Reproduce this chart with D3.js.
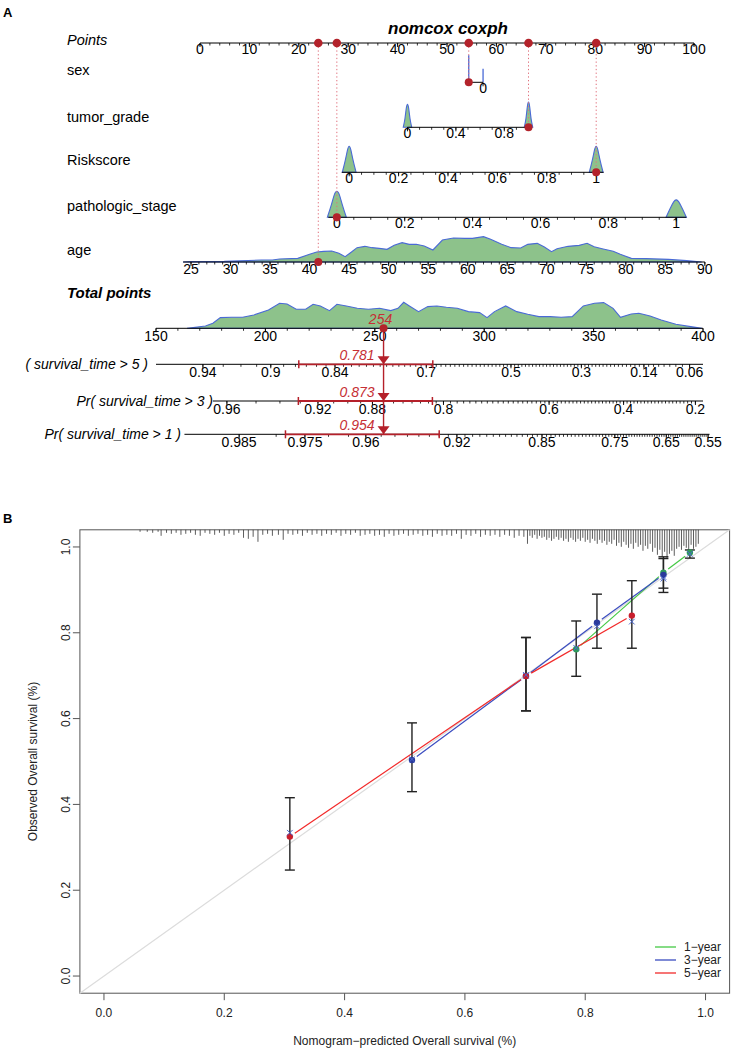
<!DOCTYPE html>
<html><head><meta charset="utf-8">
<script src="https://cdn.jsdelivr.net/npm/d3@7/dist/d3.min.js"></script>
<style>body{margin:0;background:#fff}svg{display:block}text{font-family:"Liberation Sans",Arial,sans-serif}</style>
</head><body><svg id="c" width="731" height="1050"></svg>
<script>
// ---------------- DATA (panel A: nomogram) ----------------
const pointsTicks = [0,10,20,30,40,50,60,70,80,90,100];
const varLabels = ["sex","tumor_grade","Riskscore","pathologic_stage","age"];
const sexDomain = [0,1], sexPoints = [57.3,54.4], sexTicks = [0];
const sexSpikeVals = [1,0], sexSpikeDens = [1.0,0.5];
const gradeDomain = [0,1], gradePoints = [42.0,66.5], gradeTicks = [0,0.4,0.8];
const gradeDensVals = [[-0.035,-0.02,-0.01,0,0.01,0.02,0.035],[0.965,0.98,0.99,1,1.01,1.02,1.035]];
const gradeDens = [[0,0.3,0.75,0.9,0.75,0.3,0],[0,0.3,0.8,1.0,0.8,0.3,0]];
const riskDomain = [0,1], riskPoints = [30.2,80.2], riskTicks = [0,0.2,0.4,0.6,0.8,1];
const riskDensVals = [[-0.028,-0.015,-0.006,0,0.006,0.015,0.028],[0.972,0.985,0.994,1,1.006,1.015,1.028]];
const riskDens = [[0,0.45,0.9,1.0,0.9,0.45,0],[0,0.45,0.9,1.0,0.9,0.45,0]];
const stageDomain = [0,1], stagePoints = [27.7,96.4], stageTicks = [0,0.2,0.4,0.6,0.8,1];
const stageDensVals = [[-0.028,-0.016,-0.007,0,0.007,0.016,0.028],[0.97,0.983,0.993,1,1.007,1.017,1.03]];
const stageDens = [[0,0.45,0.9,1.0,0.9,0.45,0],[0,0.35,0.6,0.67,0.6,0.35,0]];
const ageDomain = [25,90], agePoints = [-1.82,102.2];
const ageTicks = [25,30,35,40,45,50,55,60,65,70,75,80,85,90];
const ageDensX = [24.0,25.0,29.2,33.9,35.3,36.2,38.5,40.0,40.9,41.8,42.8,43.7,44.5,45.3,46.0,47.0,47.9,48.8,49.8,50.7,51.7,52.6,53.5,54.5,55.6,56.8,58.2,59.6,60.6,62.0,62.9,64.3,65.5,66.7,67.6,68.8,69.7,70.6,71.3,72.7,74.1,75.1,76.0,77.0,78.4,79.3,80.7,82.6,85.4,87.7,89.6];
const ageDensY = [0,1,2,6,6,9,11,23,30,32,33,26,16,30,43,47,43,41,38,50,58,53,53,48,36,66,72,71,71,76,68,53,43,42,53,56,45,31,40,47,50,56,46,40,32,23,11,10,8,4,0];
const totalDomain = [150,400], totalTicks = [150,200,250,300,350,400];
const totDensX = [164.2,172.6,176.0,179.4,184.5,189.6,194.7,201.4,206.5,209.9,214.1,218.4,221.8,225.1,229.3,232.7,237.0,242.0,247.1,252.2,257.3,260.6,263.2,265.8,270.0,274.2,278.4,282.7,287.7,292.8,297.9,301.3,304.7,309.8,314.9,319.9,325.0,330.1,335.2,340.2,345.3,350.4,354.6,358.9,362.3,367.2,370.7,375.8,380.9,387.6,394.4,399.5];
const totDensY = [0,7,15,32,33,33,40,55,75,73,57,57,72,67,53,72,67,60,57,60,53,60,78,67,50,65,67,63,60,50,47,32,50,67,50,42,35,35,33,35,67,75,77,60,33,43,45,37,25,12,5,0];
const patientValues = [1,1,1,0,41.1];
const patientTotal = 254;
const survLabels = ["( survival_time > 5 )","Pr( survival_time > 3 )","Pr( survival_time > 1 )"];
const survSlope = 0.01716;
const survCenter = [333.6,368.8,432.3];
const surv5Ticks = [0.94,0.9,0.84,0.7,0.5,0.3,0.14,0.06];
const surv3Ticks = [0.96,0.92,0.88,0.8,0.6,0.4,0.2];
const surv1Ticks = [0.985,0.975,0.96,0.92,0.85,0.75,0.65,0.55];
const survMinor = [[0.06,0.94,0.01],[0.2,0.96,0.01],[0.55,0.985,0.005]];
const survLineRange = [[150,400],[176,400],[163,403]];
const survPred = ["0.781","0.873","0.954"];
const survCI = [[0.877,0.687],[0.931,0.815],[0.9785,0.930]];

// ---------------- DATA (panel B: calibration) ----------------
const calTicks = [0,0.2,0.4,0.6,0.8,1.0];
const seriesNames = ["1\u2212year","3\u2212year","5\u2212year"];
const calPred = [[0.785,0.930,0.974],[0.512,0.7015,0.8195,0.930],[0.309,0.7015,0.8775]];
const calObs  = [[0.7615,0.940,0.987],[0.5035,0.699,0.8236,0.935],[0.325,0.699,0.840]];
const calLo   = [[0.6986,0.894,0.974],[0.4297,0.618,0.764,0.904],[0.247,0.618,0.764]];
const calHi   = [[0.8275,0.973,0.993],[0.590,0.789,0.890,0.977],[0.4156,0.789,0.9214]];
const calCorr = [[0.765,0.930,0.984],[0.505,0.700,0.815,0.926],[0.334,0.702,0.826]];
const rugP = [0.060,0.072,0.081,0.090,0.095,0.104,0.112,0.120,0.128,0.136,0.144,0.152,0.160,0.168,0.176,0.184,0.192,0.200,0.208,0.216,0.224,0.232,0.240,0.248,0.256,0.264,0.272,0.280,0.290,0.298,0.306,
0.314,0.322,0.330,0.338,0.346,0.354,0.362,0.370,0.378,0.386,0.394,0.402,0.410,0.418,0.426,0.434,0.442,0.450,0.458,0.466,0.474,0.482,0.490,0.498,0.506,0.514,0.522,0.530,0.538,0.546,0.554,0.562,0.570,0.578,0.586,0.594,0.602,0.610,0.618,0.626,0.634,0.642,0.650,0.658,0.666,0.674,0.682,0.690,0.698,
0.704,0.708,0.712,0.716,0.720,0.724,0.728,0.732,0.736,0.740,0.744,0.748,0.752,0.756,0.760,0.764,0.768,0.772,0.776,0.780,0.784,0.788,0.792,0.796,0.800,0.804,0.808,0.812,0.816,0.820,0.824,0.828,0.832,0.836,0.840,0.844,0.848,0.852,0.856,0.860,0.864,0.868,0.872,0.876,0.880,0.884,0.888,0.892,0.896,0.900,0.904,0.908,0.912,0.916,0.920,0.924,0.928,0.932,0.936,0.940,0.944,0.948,0.952,0.956,0.960,0.964,0.968,0.972,0.976,0.980,0.984,0.988];
const rugLen = [2,2,3,2,6,3,4,3,5,4,3,5,6,3,4,5,3,6,4,5,3,8,9,7,12,5,4,6,5,10,4,
5,4,6,3,5,4,6,4,5,3,6,4,5,3,6,5,4,6,5,7,4,6,5,4,6,5,4,6,5,7,4,6,5,6,4,9,5,6,4,7,5,6,5,7,5,6,8,6,7,
14,6,8,5,9,6,8,7,10,8,11,9,7,10,8,11,9,12,8,10,12,9,11,8,12,10,13,9,11,14,10,13,11,15,12,14,10,16,13,17,12,15,18,14,19,13,17,15,21,16,19,14,22,18,25,20,27,22,29,24,21,26,19,17,20,16,18,21,15,19,17,14];

// ---------------- DRAWING ----------------
const svg = d3.select("#c");
const RED = "#b5202a", DOT = "#b3232b", GREEN_FILL = "#8dc28b", BLUE_LINE = "#4a6ad6";
const ptsX = d3.scaleLinear().domain([0,100]).range([200,694]);
const totX = d3.scaleLinear().domain(totalDomain).range([156,703]);
const densH = d3.scaleLinear().domain([0,1]).range([0,27]);
const bigDensH = d3.scaleLinear().domain([0,78]).range([0,26]);

svg.append("text").attr("x",3).attr("y",17).attr("font-size",13).attr("font-weight","bold").text("A");
svg.append("text").attr("x",3).attr("y",523).attr("font-size",13).attr("font-weight","bold").text("B");
svg.append("text").attr("x",448).attr("y",34).attr("text-anchor","middle").attr("font-size",17)
  .attr("font-weight","bold").attr("font-style","italic").text("nomcox coxph");

function hAxis(y, xFn, from, to, major, minor, fmt, dy) {
  const g = svg.append("g");
  g.append("line").attr("x1",from).attr("x2",to).attr("y1",y).attr("y2",y).attr("stroke","#000").attr("stroke-width",1);
  g.selectAll(".mn").data(minor).join("line").attr("x1",d=>xFn(d)).attr("x2",d=>xFn(d))
    .attr("y1",y).attr("y2",y+2.5).attr("stroke","#000").attr("stroke-width",0.8);
  g.selectAll(".mj").data(major).join("line").attr("x1",d=>xFn(d)).attr("x2",d=>xFn(d))
    .attr("y1",y).attr("y2",y+4).attr("stroke","#000").attr("stroke-width",0.9);
  g.selectAll("text").data(major).join("text").attr("x",d=>xFn(d)).attr("y",y+(dy||11))
    .attr("text-anchor","middle").attr("font-size",14).text(fmt);
  return g;
}
const fmtAuto = d => String(+d.toFixed(3));

const labelY = [70,117,160,206,250];
svg.append("text").attr("x",67).attr("y",45).attr("font-size",14.5).attr("font-style","italic").text("Points");
varLabels.forEach((t,i)=> svg.append("text").attr("x",67).attr("y",labelY[i]+5).attr("font-size",14.5).text(t));
svg.append("text").attr("x",67).attr("y",298).attr("font-size",15).attr("font-weight","bold").attr("font-style","italic").text("Total points");

const yPts = 43;
hAxis(yPts, ptsX, ptsX(0), ptsX(100), pointsTicks, d3.range(0,101,2), d=>d, 11);

const mk = (dom,pts) => { const s = d3.scaleLinear().domain(dom).range(pts); return v => ptsX(s(v)); };
const sexXf = mk(sexDomain,sexPoints), gradeXf = mk(gradeDomain,gradePoints),
      riskXf = mk(riskDomain,riskPoints), stageXf = mk(stageDomain,stagePoints), ageXf = mk(ageDomain,agePoints);
const rowY = [82.3,127.3,172.3,217.3,262];

function peaks(xf, y, valsArr, densArr) {
  valsArr.forEach((vals,k)=>{
    const pts = vals.map((v,i)=>[xf(v), y - densH(densArr[k][i])]);
    svg.append("path").attr("d", d3.line().curve(d3.curveBasis)(pts)+"Z")
      .attr("fill",GREEN_FILL).attr("stroke",BLUE_LINE).attr("stroke-width",1.1);
  });
}
function bigDens(xf, y, xs, ys) {
  const pts = xs.map((v,i)=>[xf(v), y - bigDensH(ys[i])]);
  svg.append("path").attr("d", d3.line().curve(d3.curveLinear)(pts)+"Z")
    .attr("fill",GREEN_FILL).attr("stroke",BLUE_LINE).attr("stroke-width",1.1);
}

sexSpikeVals.forEach((v,i)=> svg.append("line").attr("x1",sexXf(v)).attr("x2",sexXf(v))
  .attr("y1",rowY[0]).attr("y2",rowY[0]-densH(sexSpikeDens[i])).attr("stroke",BLUE_LINE).attr("stroke-width",1.3));
hAxis(rowY[0], sexXf, sexXf(1), sexXf(0), sexTicks, [], fmtAuto, 11);
peaks(gradeXf, rowY[1], gradeDensVals, gradeDens);
hAxis(rowY[1], gradeXf, gradeXf(0), gradeXf(1), gradeTicks, d3.range(0,1.001,0.1), fmtAuto, 11);
peaks(riskXf, rowY[2], riskDensVals, riskDens);
hAxis(rowY[2], riskXf, riskXf(-0.03), riskXf(1.03), riskTicks, d3.range(0,1.001,0.05), fmtAuto, 11);
peaks(stageXf, rowY[3], stageDensVals, stageDens);
hAxis(rowY[3], stageXf, stageXf(-0.025), stageXf(1.03), stageTicks, d3.range(0,1.001,0.05), fmtAuto, 11);
bigDens(ageXf, rowY[4], ageDensX, ageDensY);
hAxis(rowY[4], ageXf, ageXf(24), ageXf(90), ageTicks, d3.range(25,91,1), d=>d, 12);
const yTot = 328.3;
bigDens(totX, yTot, totDensX, totDensY);
hAxis(yTot, totX, totX(150), totX(400), totalTicks, d3.range(150,401,10), d=>d, 13);

const xfs = [sexXf,gradeXf,riskXf,stageXf,ageXf];
patientValues.forEach((v,i)=>{
  const x = xfs[i](v);
  svg.append("line").attr("x1",x).attr("x2",x).attr("y1",yPts).attr("y2",rowY[i])
    .attr("stroke","#e0707c").attr("stroke-width",1).attr("stroke-dasharray","1.3,2.4");
});
patientValues.forEach((v,i)=>{
  const x = xfs[i](v);
  svg.append("circle").attr("cx",x).attr("cy",rowY[i]).attr("r",4).attr("fill",DOT);
  svg.append("circle").attr("cx",x).attr("cy",yPts).attr("r",4.3).attr("fill",DOT);
});

const survTicks = [surv5Ticks,surv3Ticks,surv1Ticks];
const survY = [364.3,401,434.3];
const survLabelEnd = [148,213,181];
const sx = i => p => totX(survCenter[i] + Math.log(-Math.log(p))/survSlope);
survLabels.forEach((lab,i)=>{
  const xf = sx(i);
  const [a,b,st] = survMinor[i];
  const minor = d3.range(Math.round((b-a)/st)+1).map(k=>a+k*st);
  hAxis(survY[i], xf, totX(survLineRange[i][0]), totX(survLineRange[i][1]), survTicks[i], minor, fmtAuto, 13);
  svg.append("text").attr("x",survLabelEnd[i]).attr("y",survY[i]+5).attr("text-anchor","end")
    .attr("font-size",14).attr("font-style","italic").text(lab);
});

const xP = totX(patientTotal);
svg.append("line").attr("x1",xP).attr("x2",xP).attr("y1",yTot).attr("y2",survY[2]).attr("stroke",RED).attr("stroke-width",1.4);
svg.append("circle").attr("cx",xP).attr("cy",yTot).attr("r",4).attr("fill",DOT);
svg.append("text").attr("x",xP-3).attr("y",yTot-4).attr("text-anchor","middle").attr("font-size",14)
  .attr("font-style","italic").attr("fill","#c62f35").text(patientTotal);
survY.forEach((y,i)=>{
  const xf = sx(i);
  const x1 = xf(survCI[i][0]), x2 = xf(survCI[i][1]);
  svg.append("line").attr("x1",x1).attr("x2",x2).attr("y1",y).attr("y2",y).attr("stroke",RED).attr("stroke-width",1.8);
  [x1,x2].forEach(x=> svg.append("line").attr("x1",x).attr("x2",x).attr("y1",y-4).attr("y2",y+4).attr("stroke",RED).attr("stroke-width",1.5));
  svg.append("path").attr("d",`M${xP-6},${y-8}L${xP+6},${y-8}L${xP},${y}Z`).attr("fill",RED);
  svg.append("text").attr("x",xP-9).attr("y",y-4).attr("text-anchor","end").attr("font-size",14)
    .attr("font-style","italic").attr("fill","#c62f35").text(survPred[i]);
});

// ---------------- PANEL B ----------------
const bx = d3.scaleLinear().domain([-0.04,1.04]).range([79.9,729.6]);
const by = d3.scaleLinear().domain([-0.04,1.04]).range([993.2,529.8]);
const FR = "#555";
const gB = svg.append("g");
gB.append("rect").attr("x",bx(-0.04)).attr("y",by(1.04)).attr("width",bx(1.04)-bx(-0.04))
  .attr("height",by(-0.04)-by(1.04)).attr("fill","none").attr("stroke",FR).attr("stroke-width",1);
gB.append("line").attr("x1",bx(-0.04)).attr("y1",by(-0.04)).attr("x2",bx(1.04)).attr("y2",by(1.04))
  .attr("stroke","#dcdcdc").attr("stroke-width",1.2);
calTicks.forEach(t=>{
  gB.append("line").attr("x1",bx(t)).attr("x2",bx(t)).attr("y1",by(-0.04)).attr("y2",by(-0.04)+7).attr("stroke",FR);
  gB.append("text").attr("x",bx(t)).attr("y",1017).attr("text-anchor","middle").attr("font-size",12).attr("fill","#222").text(d3.format(".1f")(t));
  gB.append("line").attr("y1",by(t)).attr("y2",by(t)).attr("x1",bx(-0.04)).attr("x2",bx(-0.04)-7).attr("stroke",FR);
  gB.append("text").attr("transform",`translate(70,${by(t)}) rotate(-90)`).attr("text-anchor","middle")
    .attr("font-size",12).attr("fill","#222").text(d3.format(".1f")(t));
});
gB.append("text").attr("x",bx(0.5)).attr("y",1045).attr("text-anchor","middle").attr("font-size",12).attr("fill","#222")
  .text("Nomogram\u2212predicted Overall survival (%)");
gB.append("text").attr("transform",`translate(37,${by(0.5)}) rotate(-90)`).attr("text-anchor","middle")
  .attr("font-size",12).attr("fill","#222").text("Observed Overall survival (%)");
gB.selectAll(".rug").data(rugP).join("line").attr("x1",d=>bx(d)).attr("x2",d=>bx(d))
  .attr("y1",by(1.04)).attr("y2",(d,i)=>by(1.04)+rugLen[i]).attr("stroke","#333").attr("stroke-width",0.8);
const serCol = ["#44c944","#3a4cc0","#f22a2a"];
const dotCol = ["#2f9a5a","#2a3a9c","#c81e2c"];
const gap = 6;
calPred.forEach((pr,s)=>{
  const pts = pr.map((p,i)=>[bx(p), by(calObs[s][i])]);
  for (let i=0;i<pts.length-1;i++){
    const [x1,y1]=pts[i],[x2,y2]=pts[i+1];
    const L = Math.hypot(x2-x1,y2-y1), ux=(x2-x1)/L, uy=(y2-y1)/L;
    gB.append("line").attr("x1",x1+ux*gap).attr("y1",y1+uy*gap).attr("x2",x2-ux*gap).attr("y2",y2-uy*gap)
      .attr("stroke",serCol[s]).attr("stroke-width",1.2);
  }
});
calPred.forEach((pr,s)=>{
  pr.forEach((p,i)=>{
    const x = bx(p);
    gB.append("line").attr("x1",x).attr("x2",x).attr("y1",by(calLo[s][i])).attr("y2",by(calHi[s][i])).attr("stroke","#222").attr("stroke-width",1.4);
    [calLo[s][i],calHi[s][i]].forEach(v=> gB.append("line").attr("x1",x-5).attr("x2",x+5).attr("y1",by(v)).attr("y2",by(v)).attr("stroke","#222").attr("stroke-width",1.4));
  });
});
calPred.forEach((pr,s)=>{
  pr.forEach((p,i)=>{
    gB.append("circle").attr("cx",bx(p)).attr("cy",by(calObs[s][i])).attr("r",3.2).attr("fill",dotCol[s]);
    const x = bx(p), y = by(calCorr[s][i]);
    gB.append("path").attr("d",`M${x-2.8},${y-2.8}L${x+2.8},${y+2.8}M${x-2.8},${y+2.8}L${x+2.8},${y-2.8}`)
      .attr("stroke","#4a66cc").attr("stroke-width",1);
  });
});
const legY = [947,960,973];
seriesNames.forEach((n,i)=>{
  gB.append("line").attr("x1",655).attr("x2",676).attr("y1",legY[i]).attr("y2",legY[i]).attr("stroke",serCol[i]).attr("stroke-width",1.3);
  gB.append("text").attr("x",684).attr("y",legY[i]+4).attr("font-size",12).attr("fill","#222").text(n);
});
</script></body></html>
